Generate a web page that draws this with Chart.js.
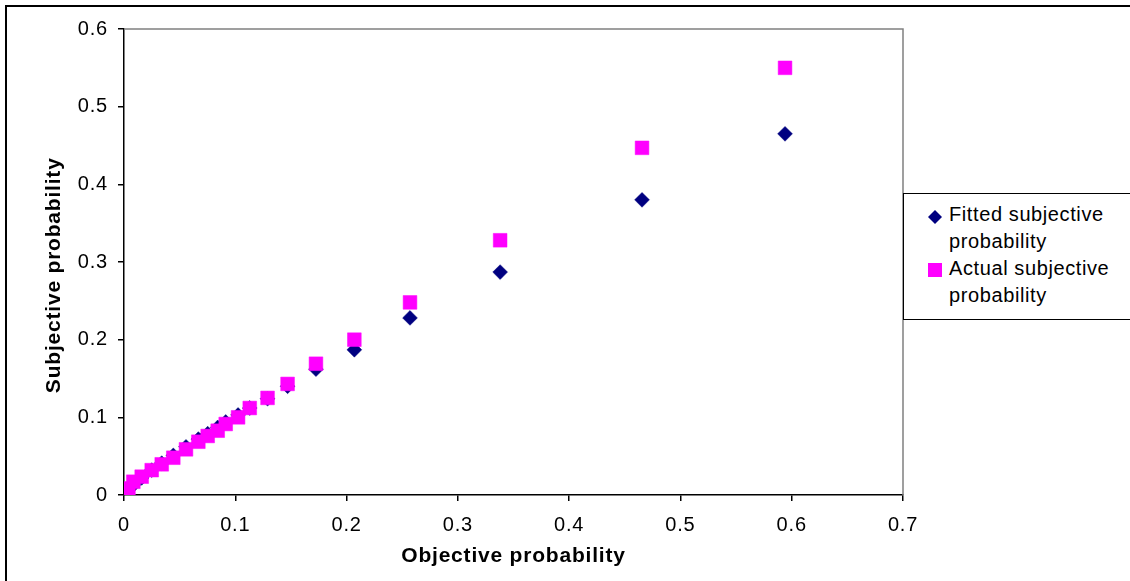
<!DOCTYPE html>
<html>
<head>
<meta charset="utf-8">
<script src="https://cdn.jsdelivr.net/npm/chart.js@4/dist/chart.umd.min.js"></script>
<style>
  html, body { margin: 0; padding: 0; background: #fff; }
  #wrap { position: relative; width: 1130px; height: 581px; overflow: hidden; }
  #frame { position: absolute; left: 5px; top: 5px; width: 1140px; height: 600px;
           border-top: 2px solid #000; border-left: 2px solid #000; box-sizing: border-box; pointer-events: none; }
  #c { position: absolute; left: 0; top: 0; }
  #legend { position: absolute; left: 903px; top: 193px; width: 260px; height: 127px;
            border: 1px solid #000; background: #fff; box-sizing: border-box;
            font-family: "Liberation Sans", Arial, sans-serif; font-size: 20px; color: #000; letter-spacing: 0.6px; }
  .item { position: absolute; left: 45px; width: 180px; line-height: 27px; }
  .mk { position: absolute; }
</style>
</head>
<body>
<div id="wrap">
  <canvas id="c" width="1130" height="581"></canvas>
  <div id="frame"></div>
  <div id="legend"></div>
</div>
<script>
// ---- data ----
const objective = [0.004, 0.0084, 0.0159, 0.0249, 0.0339, 0.0443, 0.0557, 0.0668, 0.0752, 0.0842, 0.0914, 0.1025, 0.113, 0.129, 0.147, 0.1725, 0.207, 0.257, 0.338, 0.4655, 0.594];
const fittedSubjective = [0.007, 0.013, 0.022, 0.032, 0.041, 0.051, 0.062, 0.072, 0.079, 0.087, 0.094, 0.103, 0.112, 0.124, 0.140, 0.162, 0.187, 0.228, 0.287, 0.380, 0.465];
const actualSubjective = [0.0086, 0.0171, 0.0236, 0.032, 0.0395, 0.048, 0.0588, 0.0686, 0.076, 0.0828, 0.0914, 0.100, 0.112, 0.125, 0.143, 0.169, 0.200, 0.248, 0.328, 0.447, 0.550];
const seriesNames = ["Fitted subjective probability", "Actual subjective probability"];
const xTickLabels = ["0", "0.1", "0.2", "0.3", "0.4", "0.5", "0.6", "0.7"];
const yTickLabels = ["0", "0.1", "0.2", "0.3", "0.4", "0.5", "0.6"];
const xTitle = "Objective probability";
const yTitle = "Subjective probability";

const NAVY = "#000080", MAGENTA = "#FF00FF";
const FONT = "'Liberation Sans', Arial, sans-serif";

const toPoints = ys => objective.map((x, i) => ({ x: x, y: ys[i] }));

const frameBorder = {
  id: 'frameBorder',
  beforeDraw(chart) {
    if ('letterSpacing' in chart.ctx) chart.ctx.letterSpacing = '0.8px';
  },
  beforeDatasetsDraw(chart) {
    const { ctx, chartArea: a } = chart;
    ctx.save();
    ctx.strokeStyle = '#808080';
    ctx.lineWidth = 1.5;
    ctx.beginPath();
    ctx.moveTo(a.left, a.top);
    ctx.lineTo(a.right, a.top);
    ctx.lineTo(a.right, a.bottom);
    ctx.stroke();
    ctx.restore();
  }
};

Chart.defaults.font.family = FONT;
Chart.defaults.color = '#000';

new Chart(document.getElementById('c'), {
  type: 'scatter',
  data: {
    datasets: [
      { label: seriesNames[0], data: toPoints(fittedSubjective), pointStyle: 'rectRot',
        pointRadius: 7.4, pointHoverRadius: 7.4, backgroundColor: NAVY, borderColor: NAVY, borderWidth: 0.5, order: 1 },
      { label: seriesNames[1], data: toPoints(actualSubjective), pointStyle: 'rect',
        pointRadius: 9.7, pointHoverRadius: 9.7, backgroundColor: MAGENTA, borderColor: MAGENTA, borderWidth: 0.5, order: 0 }
    ]
  },
  options: {
    responsive: false,
    animation: false,
    events: [],
    layout: { padding: { left: 38, right: 227, top: 29, bottom: 8 } },
    plugins: { legend: { display: false }, tooltip: { enabled: false } },
    scales: {
      x: {
        type: 'linear', min: 0, max: 0.7,
        afterFit(s) { s.height = 78; },
        afterBuildTicks(s) { s.ticks = xTickLabels.map(t => ({ value: parseFloat(t) })); },
        ticks: { callback: (v, i) => xTickLabels[i], font: { size: 20 }, padding: 12, maxRotation: 0, autoSkip: false },
        grid: { drawOnChartArea: false, drawTicks: true, tickLength: 6, color: '#000', lineWidth: 1.5 },
        border: { display: true, color: '#000', width: 1.5 },
        title: { display: true, text: xTitle, font: { size: 21, weight: 'bold' }, padding: { top: 4, bottom: 4 } }
      },
      y: {
        type: 'linear', min: 0, max: 0.6,
        afterFit(s) { s.width = 86; },
        afterBuildTicks(s) { s.ticks = yTickLabels.map(t => ({ value: parseFloat(t) })); },
        ticks: { callback: (v, i) => yTickLabels[i], font: { size: 20 }, padding: 10, autoSkip: false },
        grid: { drawOnChartArea: false, drawTicks: true, tickLength: 6, color: '#000', lineWidth: 1.5 },
        border: { display: true, color: '#000', width: 1.5 },
        title: { display: true, text: yTitle + "    ", font: { size: 21, weight: 'bold' }, padding: { top: 4, bottom: 4 } }
      }
    }
  },
  plugins: [frameBorder]
});

// ---- HTML legend built from the series names ----
const legend = document.getElementById('legend');
const markers = [
  '<svg class="mk" style="left:23px;top:15px" width="16" height="16"><polygon points="8,1 15,8 8,15 1,8" fill="' + NAVY + '"/></svg>',
  '<svg class="mk" style="left:24px;top:69px" width="14" height="14"><rect x="0" y="0" width="14" height="14" fill="' + MAGENTA + '"/></svg>'
];
seriesNames.forEach((name, i) => {
  legend.insertAdjacentHTML('beforeend', markers[i]);
  const d = document.createElement('div');
  d.className = 'item';
  d.style.top = (7 + i * 54) + 'px';
  d.textContent = name;
  legend.appendChild(d);
});
</script>
</body>
</html>
